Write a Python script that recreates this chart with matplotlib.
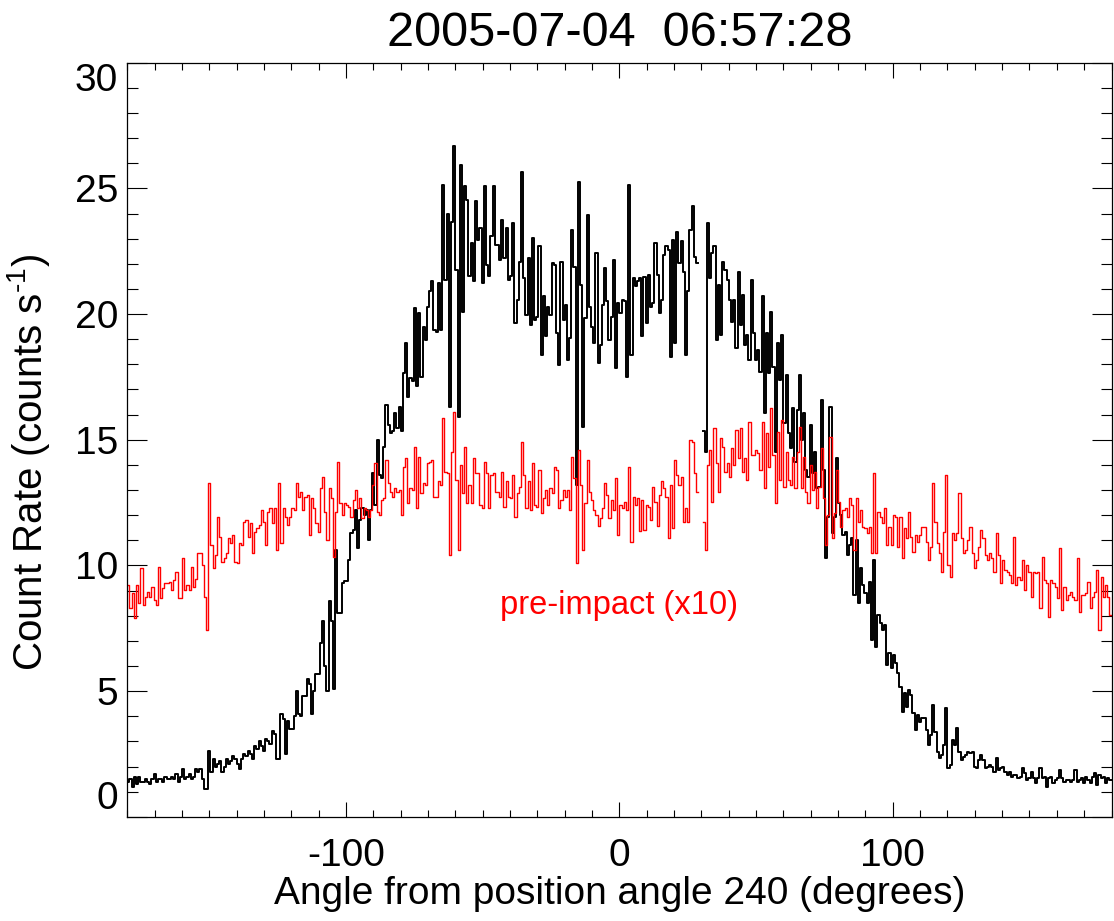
import numpy as np
import matplotlib
matplotlib.use("Agg")
import matplotlib.pyplot as plt

plt.rcParams['font.family'] = ['Liberation Sans', 'DejaVu Sans']
plt.rcParams['mathtext.fontset'] = 'custom'
plt.rcParams['mathtext.rm'] = 'Liberation Sans'
plt.rcParams['mathtext.it'] = 'Liberation Sans'
plt.rcParams['mathtext.default'] = 'regular'

# ---- data: count rate per 0.8-degree angular bin, from -180 to +180 deg ----
angle_start = -180.0
bin_width = 0.8

nan = float('nan')

black_counts = [
    1.4,1.5,1.2,1.6,1.3,1.6,1.4,1.4,1.5,1.4,1.3,1.5,1.7,1.4,1.5,1.5,1.4,1.6,1.5,1.5,1.6,1.5,1.7,1.4,1.6,
    1.9,1.5,1.6,1.7,1.5,1.6,1.9,1.8,1.9,1.5,1.1,1.1,
    2.6,1.8,2.3,2.0,2.1,2.2,1.8,2.0,2.3,2.1,2.2,2.4,2.3,2.1,1.9,2.3,2.5,2.4,2.6,2.5,2.3,
    2.8,2.7,3.0,2.8,2.6,3.1,3.0,2.9,3.4,3.3,2.3,2.3,
    4.1,3.9,2.5,3.8,3.5,3.5,4.0,5.0,4.1,4.0,
    4.8,4.8,5.5,5.3,4.1,5.0,5.7,5.7,6.9,7.8,
    6.0,5.0,8.6,7.8,5.1,10.6,8.1,8.1,9.3,9.4,
    9.4,10.2,11.3,11.4,12.2,10.7,11.8,12.3,12.0,12.2,11.0,
    12.21,13.67,12.41,15.0,13.6,13.47,14.73,16.39,15.59,15.26,
    15.33,16.06,15.46,16.32,15.33,17.65,18.84,16.72,17.45,17.32,
    20.23,17.12,20.03,17.51,19.5,18.97,20.3,20.9,21.3,19.37,
    19.3,21.23,19.37,25.14,21.36,24.0,16.32,23.68,26.69,21.76,
    15.92,25.94,20.1,25.08,24.54,21.5,22.82,21.3,24.48,22.95,
    23.42,21.23,25.08,21.96,21.5,23.09,25.08,22.75,
    22.75,22.16,23.75,22.22,23.42,21.36,21.5,23.62,19.64,20.57,
    22.09,25.67,21.43,19.97,22.22,19.57,23.02,19.77,19.9,22.69,
    18.38,20.7,19.11,20.3,19.97,22.02,21.96,19.24,17.98,22.09,
    19.77,20.37,18.18,19.04,23.35,21.89,13.2,25.27,21.16,15.52,
    19.84,23.95,20.3,19.5,18.84,22.42,18.04,18.77,20.37,21.83,
    20.5,18.97,19.9,22.16,17.85,20.43,20.03,20.57,
    20.5,17.5,25.14,18.38,21.43,21.1,21.3,21.43,19.11,21.49,
    19.64,21.56,20.3,20.43,22.82,21.56,20.03,20.57,22.36,22.69,
    22.55,18.31,22.95,18.84,23.28,22.02,22.89,21.69,18.38,20.9,
    23.35,24.28,22.29,22.02,
    nan,nan,
    15.33,14.53,23.62,21.43,22.42,22.69,18.97,21.16,19.17,22.09,21.76,21.36,
    20.57,19.7,20.57,18.64,21.69,19.57,20.76,18.77,19.17,18.18,21.36,
    19.24,18.17,18.57,17.71,20.7,16.05,19.24,17.64,20.1,17.91,
    14.53,18.84,17.38,19.17,15.65,17.58,15.26,14.66,16.25,14.13,
    16.19,17.58,14.99,16.05,13.8,13.53,15.59,13.66,14.53,13.07,
    13.13,16.58,13.8,10.28,11.94,16.32,11.28,11.94,14.26,12.47,
    12.01,11.21,11.34,10.42,10.81,11.08,8.82,11.01,8.49,9.88,
    9.22,8.89,8.49,9.35,7.03,10.22,
    6.77,8.03,7.7,7.43,7.63,6.04,6.5,5.91,6.44,6.1,5.71,5.18,4.18,4.91,4.38,5.04,4.84,4.12,3.45,4.05,3.78,3.92,
    3.92,3.45,2.86,3.25,4.45,3.39,2.59,2.33,2.46,2.86,4.31,1.93,2.06,3.05,2.86,3.52,2.59,2.26,2.39,2.46,
    2.59,2.52,2.59,1.99,1.93,2.26,2.46,2.26,1.93,1.99,2.06,
    1.99,1.79,2.33,1.86,1.93,1.99,1.79,1.66,1.79,1.59,1.66,1.66,1.53,1.59,1.93,1.73,
    1.46,1.53,1.79,1.53,1.33,1.53,1.93,1.53,1.59,1.2,1.53,1.59,1.33,1.46,1.53,1.86,1.53,1.4,1.46,
    1.46,1.4,1.46,1.86,1.4,1.46,1.53,1.33,1.59,1.46,1.33,1.59,1.73,1.26,1.66,1.53,1.59,1.33,1.53,1.46,
]

pre_impact_x10 = [
    9.22,8.29,8.89,7.9,9.22,8.49,9.89,8.43,8.76,8.96,
    8.76,9.16,8.63,8.43,9.95,8.69,9.09,9.29,9.29,9.36,
    9.02,9.42,9.75,8.69,8.69,10.28,9.02,9.22,9.02,9.95,
    9.16,9.45,10.48,10.48,10.02,8.76,7.43,13.27,10.81,9.89,
    10.42,11.94,11.15,10.15,10.28,10.48,11.08,10.88,11.21,10.15,
    10.08,10.88,10.81,11.74,11.81,11.15,11.68,10.48,11.34,11.48,
    11.61,12.21,11.74,10.81,12.14,12.27,11.68,12.27,10.61,13.27,
    10.88,12.27,11.94,11.61,11.94,12.27,12.21,13.27,12.74,12.94,
    12.21,12.74,12.8,11.21,12.67,12.27,11.68,11.34,13.07,13.53,
    12.14,11.01,13.07,12.67,10.35,12.14,14.13,12.47,12.01,12.47,
    12.41,12.34,11.94,12.6,13.0,12.27,12.67,11.88,12.27,12.21,11.94,
    12.21,13.2,14.07,12.14,12.01,12.61,12.67,14.2,13.27,12.94,
    12.74,13.07,12.94,13.0,12.01,13.93,14.26,12.47,13.07,13.0,
    14.73,12.28,14.33,12.87,13.27,13.2,14.07,14.13,14.2,12.74,
    12.74,13.34,13.2,15.86,13.73,13.67,10.42,14.53,16.12,13.4,
    10.62,14.0,12.87,14.73,12.47,13.2,12.47,14.26,13.67,13.67,
    12.41,12.28,14.13,13.67,12.28,13.6,13.67,12.94,
    12.94,12.74,13.73,12.34,13.34,12.74,12.67,13.6,11.94,12.87,
    13.14,14.93,13.6,12.28,13.34,12.21,14.07,12.41,12.34,13.8,
    12.08,12.7,13.0,12.41,13.07,12.87,13.93,13.8,12.28,12.61,
    13.0,12.74,13.0,12.21,14.33,13.47,10.09,14.6,13.2,10.62,
    12.47,14.2,12.94,12.61,12.21,12.01,11.55,11.88,12.28,13.27,
    12.81,11.88,12.61,12.21,13.47,11.21,12.41,12.28,
    12.54,12.21,13.93,10.95,12.74,12.41,12.67,11.35,12.61,11.41,
    12.41,12.34,11.81,13.14,12.54,11.55,12.81,13.34,13.07,12.74,
    11.08,13.2,11.48,14.2,13.6,13.2,13.53,11.74,12.27,11.74,
    15.0,14.93,13.67,12.94,
    nan,nan,
    11.74,10.62,14.0,14.6,12.54,15.46,14.07,12.94,15.06,14.73,13.73,14.07,
    13.53,14.66,14.0,15.39,14.27,15.46,13.73,14.27,13.4,15.72,14.4,
    14.4,14.59,14.46,13.8,15.72,13.07,15.26,13.93,16.25,14.4,
    12.47,15.32,13.4,15.79,13.13,14.53,13.4,13.2,14.33,13.07,
    14.53,15.52,13.07,14.33,12.94,12.47,14.0,13.0,13.73,12.27,
    13.13,14.66,12.67,10.81,12.01,15.12,11.08,12.07,13.8,12.54,
    11.54,12.21,12.27,11.94,12.67,12.4,10.61,12.67,11.74,12.21,
    11.54,11.48,11.28,11.54,10.48,13.66,
    10.48,12.14,11.94,11.68,12.27,10.81,11.54,10.81,12.01,11.94,10.75,11.94,10.28,11.48,11.08,12.14,
    11.15,10.55,11.21,10.95,11.21,11.54,11.54,10.95,10.22,10.75,13.27,11.74,10.88,10.48,9.75,11.34,
    13.6,10.02,9.55,11.28,11.01,11.28,12.87,11.08,10.48,10.61,11.01,
    11.54,10.48,9.89,10.22,10.75,11.41,11.08,10.42,10.22,10.48,
    10.28,9.75,11.28,10.42,9.29,10.22,9.82,9.75,9.62,9.29,11.15,9.22,9.55,9.42,
    10.22,9.02,10.02,9.75,8.76,9.75,9.69,9.75,8.29,10.35,9.42,9.29,
    7.96,9.42,9.29,9.16,8.69,10.68,8.23,9.16,8.63,8.82,
    8.96,8.76,8.63,10.28,8.16,8.82,
    8.82,8.89,9.36,8.29,8.76,8.96,9.82,7.43,9.55,8.76,9.22,8.76,8.03,
]

title_text = '2005-07-04  06:57:28'
x_label = 'Angle from position angle 240 (degrees)'
y_label = 'Count Rate (counts s$^{\\text{-}1}$)'
note_text = 'pre-impact (x10)'
x_major = [-100, 0, 100]
y_major = [0, 5, 10, 15, 20, 25, 30]

# ---- figure ----
W, H = 1114, 921
fig = plt.figure(figsize=(W / 100, H / 100), dpi=100)
ax_left, ax_right, ax_top, ax_bot = 127.3, 1111.5, 62.7, 816.8
ax = fig.add_axes([ax_left / W, 1 - ax_bot / H, (ax_right - ax_left) / W, (ax_bot - ax_top) / H])

blk = np.array(black_counts, dtype=float)
red = np.array(pre_impact_x10, dtype=float)
edges_b = angle_start + bin_width * np.arange(len(blk) + 1)
edges_r = angle_start + bin_width * np.arange(len(red) + 1)

ax.plot(edges_b, np.append(blk, blk[-1]), drawstyle='steps-post', color='black', lw=1.4)
ax.plot(edges_r, np.append(red, red[-1]), drawstyle='steps-post', color='red', lw=1.0)

ax.set_xlim(-180, 180)
ax.set_ylim(0, 30)

ax.set_xticks(x_major)
ax.set_xticklabels([str(v) for v in x_major])
ax.set_xticks(np.arange(-180, 181, 10), minor=True)
ax.set_yticks(y_major)
ax.set_yticklabels([str(v) for v in y_major])
ax.set_yticks(np.arange(0, 31, 1), minor=True)

ax.tick_params(axis='both', which='both', direction='in', top=True, right=True,
               width=0.8, colors='black', labelsize=28)
ax.tick_params(axis='x', which='major', length=11, pad=15)
ax.tick_params(axis='x', which='minor', length=5)
ax.tick_params(axis='y', which='major', length=14.5, pad=6.5)
ax.tick_params(axis='y', which='minor', length=8)
for s in ax.spines.values():
    s.set_linewidth(0.9)

for lab in ax.get_yticklabels():
    if lab.get_text() == '0':
        lab.set_va('bottom')
    elif lab.get_text() == '30':
        lab.set_va('top')

ax.set_title(title_text, fontsize=35, pad=12)
ax.set_xlabel(x_label, fontsize=28, labelpad=2)
ax.set_ylabel(y_label, fontsize=29)
ax.yaxis.set_label_coords((52 - ax_left) / (ax_right - ax_left),
                          (ax_bot - 462) / (ax_bot - ax_top))

ax.text(0, 8.4, note_text, color='red', fontsize=23.5, ha='center', va='center')

fig.savefig('out.png', dpi=100)
